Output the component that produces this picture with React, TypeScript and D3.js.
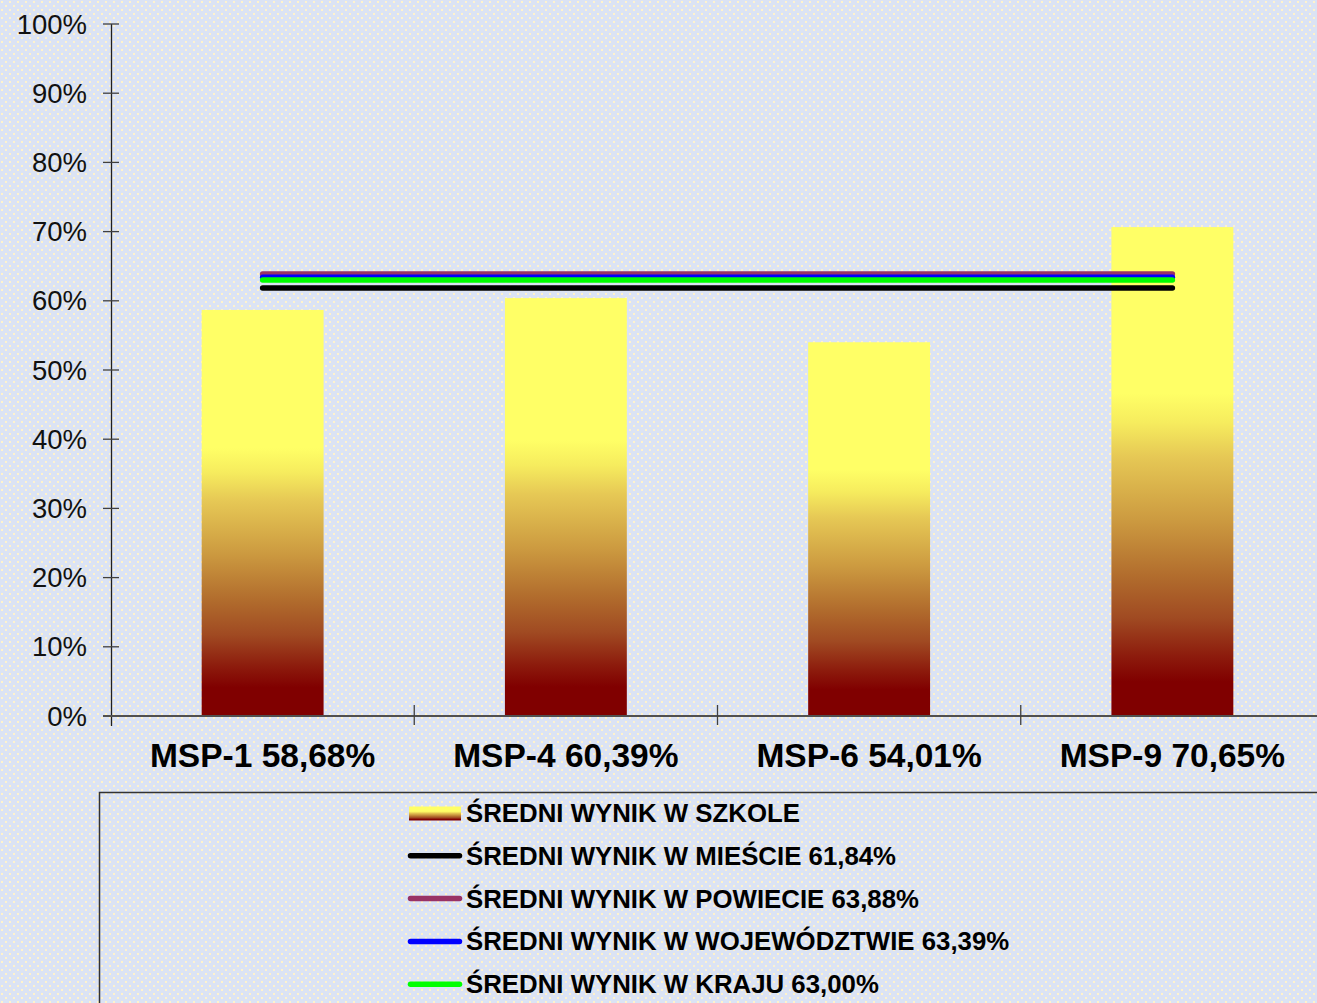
import React from "react";
import * as d3 from "d3";

const categories = ["MSP-1", "MSP-4", "MSP-6", "MSP-9"];
const schoolValues = [58.68, 60.39, 54.01, 70.65];
const yTicks = [0, 10, 20, 30, 40, 50, 60, 70, 80, 90, 100];
const refNames = [
  "ŚREDNI WYNIK W MIEŚCIE",
  "ŚREDNI WYNIK W POWIECIE",
  "ŚREDNI WYNIK W WOJEWÓDZTWIE",
  "ŚREDNI WYNIK W KRAJU",
];
const refValues = [61.84, 63.88, 63.39, 63.0];
const refColors = ["#000000", "#993366", "#0000ff", "#00ff00"];
const schoolLabel = "ŚREDNI WYNIK W SZKOLE";

const W = 1317;
const H = 1003;
const fmt = (v: number) => v.toFixed(2).replace(".", ",") + "%";
const FONT = "'Liberation Sans', Arial, sans-serif";

export default function App() {
  const x = d3.scaleBand<string>().domain(categories).range([111, 1324]).padding(0);
  const y = d3.scaleLinear().domain([0, 100]).range([716, 24]);
  const bw = x.bandwidth() * 0.402;
  const cx = (c: string) => (x(c) as number) + x.bandwidth() / 2;
  const x1 = cx(categories[0]);
  const x2 = cx(categories[categories.length - 1]);
  const drawOrder = [1, 2, 3, 0];
  const legendRows = [schoolLabel, ...refNames.map((n, i) => `${n} ${fmt(refValues[i])}`)];
  const legendY = (i: number) => 813 + i * 42.8;

  return (
    <div style={{ position: "absolute", left: 0, top: 0 }}>
      <svg width={W} height={H} style={{ display: "block" }}>
        <defs>
          <pattern id="dots" width={8} height={8} patternUnits="userSpaceOnUse">
            <rect width={8} height={8} fill="#dbe3f4" />
            <rect x={1} y={1} width={2} height={2} fill="#fff3cc" />
            <rect x={5} y={5} width={2} height={2} fill="#fff3cc" />
          </pattern>
          <linearGradient id="barGrad" x1="0" y1="0" x2="0" y2="1">
            <stop offset="0" stopColor="#ffff66" />
            <stop offset="0.34" stopColor="#ffff66" />
            <stop offset="0.40" stopColor="#f6ec5e" />
            <stop offset="0.47" stopColor="#e6c855" />
            <stop offset="0.60" stopColor="#cc9a40" />
            <stop offset="0.72" stopColor="#b06a2c" />
            <stop offset="0.80" stopColor="#a04a22" />
            <stop offset="0.88" stopColor="#8c1a0c" />
            <stop offset="0.93" stopColor="#800000" />
            <stop offset="1" stopColor="#800000" />
          </linearGradient>
        </defs>
        <rect width={W} height={H} fill="url(#dots)" />

        {categories.map((c, i) => (
          <rect
            key={c}
            x={cx(c) - bw / 2}
            y={y(schoolValues[i])}
            width={bw}
            height={y(0) - y(schoolValues[i])}
            fill="url(#barGrad)"
          />
        ))}

        {drawOrder.map((i) => (
          <line
            key={refNames[i]}
            x1={x1}
            x2={x2}
            y1={y(refValues[i])}
            y2={y(refValues[i])}
            stroke={refColors[i]}
            strokeWidth={5.5}
            strokeLinecap="round"
          />
        ))}

        <line x1={111.5} x2={111.5} y1={24} y2={726} stroke="#202020" strokeWidth={1.3} />
        {yTicks.map((t) => (
          <g key={t}>
            <line x1={103} x2={119} y1={y(t)} y2={y(t)} stroke="#404040" strokeWidth={1.3} />
            <text
              x={87}
              y={y(t) + 9.5}
              textAnchor="end"
              fontFamily={FONT}
              fontSize={27.5}
              fill="#111"
            >
              {t}%
            </text>
          </g>
        ))}

        <line x1={103} x2={W} y1={716} y2={716} stroke="#505050" strokeWidth={2} />
        {categories.slice(1).map((c) => (
          <line
            key={c}
            x1={x(c) as number}
            x2={x(c) as number}
            y1={705}
            y2={725}
            stroke="#404040"
            strokeWidth={1.3}
          />
        ))}
        {categories.map((c, i) => (
          <text
            key={c}
            x={cx(c)}
            y={767}
            textAnchor="middle"
            fontFamily={FONT}
            fontWeight="bold"
            fontSize={33.5}
            fill="#000"
          >
            {`${c} ${fmt(schoolValues[i])}`}
          </text>
        ))}

        <rect x={99.5} y={792.5} width={1400} height={400} fill="none" stroke="#333" strokeWidth={1.5} />
        {legendRows.map((label, i) => (
          <g key={label}>
            {i === 0 ? (
              <rect x={409} y={legendY(0) - 6.5} width={52} height={14} fill="url(#barGrad)" />
            ) : (
              <line
                x1={410.5}
                x2={459.5}
                y1={legendY(i)}
                y2={legendY(i)}
                stroke={refColors[i - 1]}
                strokeWidth={5.5}
                strokeLinecap="round"
              />
            )}
            <text
              x={466}
              y={legendY(i) + 9}
              fontFamily={FONT}
              fontWeight="bold"
              fontSize={25.8}
              fill="#000"
            >
              {label}
            </text>
          </g>
        ))}
      </svg>
    </div>
  );
}
